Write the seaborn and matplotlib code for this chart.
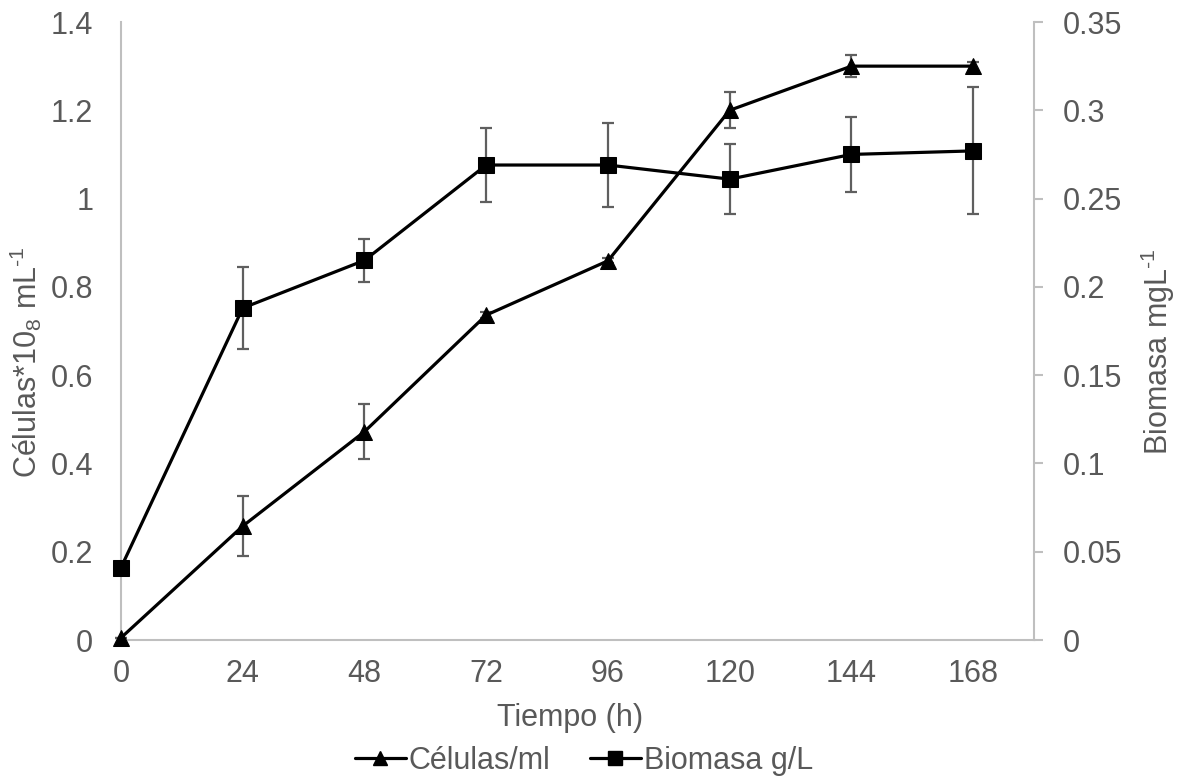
import matplotlib
matplotlib.use("Agg")
import matplotlib.pyplot as plt
from matplotlib.lines import Line2D
import seaborn as sns
import pandas as pd

# Time points (h)
tiempo = [0, 24, 48, 72, 96, 120, 144, 168]

# Cell counts (x10^8 per mL) and standard deviation
celulas = [0.005, 0.258, 0.472, 0.736, 0.859, 1.200, 1.300, 1.300]
celulas_err = [0.0, 0.068, 0.063, 0.006, 0.006, 0.041, 0.025, 0.010]

# Biomass (mg/L) and standard deviation
biomasa = [0.041, 0.188, 0.215, 0.269, 0.269, 0.261, 0.275, 0.277]
biomasa_err = [0.0, 0.023, 0.012, 0.021, 0.024, 0.020, 0.021, 0.036]

x_ticks = [0, 24, 48, 72, 96, 120, 144, 168]
left_ticks = [0, 0.2, 0.4, 0.6, 0.8, 1, 1.2, 1.4]
left_labels = ["0", "0.2", "0.4", "0.6", "0.8", "1", "1.2", "1.4"]
right_ticks = [0, 0.05, 0.1, 0.15, 0.2, 0.25, 0.3, 0.35]
right_labels = ["0", "0.05", "0.1", "0.15", "0.2", "0.25", "0.3", "0.35"]

sns.set_theme(style="white")
plt.rcParams["font.family"] = ["Liberation Sans", "DejaVu Sans"]
plt.rcParams["mathtext.fontset"] = "custom"
plt.rcParams["mathtext.rm"] = "Liberation Sans"
plt.rcParams["mathtext.it"] = "Liberation Sans"

TXT = "#595959"
AXC = "#bfbfbf"
ERRC = "#5f5f5f"
FS = 22
LW = 2.3
MS = 11.5

df_c = pd.DataFrame({"t": tiempo, "v": celulas})
df_b = pd.DataFrame({"t": tiempo, "v": biomasa})

W, H = 1177, 778
fig = plt.figure(figsize=(W / 100, H / 100), dpi=100)
ax = fig.add_axes([121 / W, 1 - 640 / H, (1034 - 121) / W, (640 - 22) / H])
ax2 = ax.twinx()

# Error bars sit below the lines and markers
ax.errorbar(tiempo, celulas, yerr=celulas_err, fmt="none", ecolor=ERRC,
            elinewidth=1.6, capsize=4.5, capthick=1.6, zorder=1)
sns.lineplot(data=df_c, x="t", y="v", ax=ax, color="black", linewidth=LW,
             marker="^", markersize=MS, markeredgecolor="black", zorder=3)

ax2.errorbar(tiempo, biomasa, yerr=biomasa_err, fmt="none", ecolor=ERRC,
             elinewidth=1.6, capsize=4.5, capthick=1.6, zorder=1)
sns.lineplot(data=df_b, x="t", y="v", ax=ax2, color="black", linewidth=LW,
             marker="s", markersize=MS, markeredgecolor="black", zorder=3)

for a in (ax, ax2):
    for ln in a.lines:
        ln.set_clip_on(False)

ax.set_xlim(0, 180)
ax.set_ylim(0, 1.4)
ax2.set_ylim(0, 0.35)
ax.set_xticks(x_ticks)
ax.set_xticklabels([str(t) for t in x_ticks])
ax.set_yticks(left_ticks)
ax.set_yticklabels(left_labels)
ax2.set_yticks(right_ticks)
ax2.set_yticklabels(right_labels)

for a in (ax, ax2):
    for s in a.spines.values():
        s.set_visible(False)
    a.grid(False)
    a.set_xlabel("")
ax.spines["left"].set_visible(True)
ax.spines["bottom"].set_visible(True)
ax2.spines["right"].set_visible(True)
for s in (ax.spines["left"], ax.spines["bottom"], ax2.spines["right"]):
    s.set_color(AXC)
    s.set_linewidth(1.5)

ax.tick_params(axis="x", length=0, labelsize=FS, labelcolor=TXT, pad=14)
ax.tick_params(axis="y", length=0, labelsize=FS, labelcolor=TXT, pad=20)
ax2.tick_params(axis="y", length=6.5, width=1.5, color=AXC, direction="out",
                labelsize=FS, labelcolor=TXT, pad=14)

ax.set_ylabel("Células*10$_8$ mL$^{\u20101}$", fontsize=FS, color=TXT)
ax2.set_ylabel("Biomasa mgL$^{\u20101}$", fontsize=FS, color=TXT)
ax.set_xlabel("Tiempo (h)", fontsize=FS, color=TXT)
ax.yaxis.set_label_coords((44 - 121) / 913, (640 - 362) / 618)
ax2.yaxis.set_label_coords((1139 - 121) / 913, (640 - 352) / 618)
ax.xaxis.set_label_coords((570 - 121) / 913, (640 - 703) / 618)

handles = [
    Line2D([], [], color="black", linewidth=LW, marker="^", markersize=10),
    Line2D([], [], color="black", linewidth=LW, marker="s", markersize=10),
]
leg = fig.legend(handles, ["Células/ml", "Biomasa g/L"], loc="center",
                 bbox_to_anchor=(584 / W, 1 - 761 / H), ncol=2, frameon=False,
                 fontsize=FS, handlelength=1.65, handletextpad=0.1, columnspacing=1.3,
                 borderpad=0)
for t in leg.get_texts():
    t.set_color(TXT)

fig.savefig("out.png", dpi=100)
